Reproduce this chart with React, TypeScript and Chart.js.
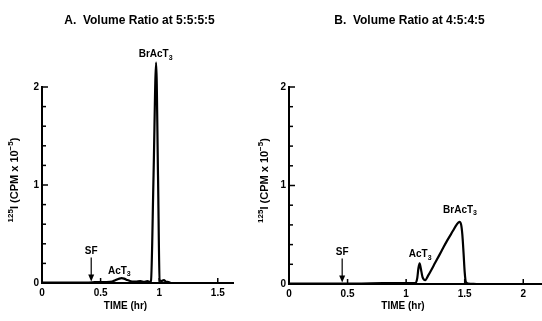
import React, { useEffect, useRef } from 'react';
import { Chart, registerables } from 'chart.js';

Chart.register(...registerables);

// ---------- data ----------
const timeA = [0, 0.1, 0.2, 0.3, 0.4, 0.45, 0.5, 0.55, 0.6, 0.63, 0.66, 0.68, 0.7, 0.73, 0.77, 0.8, 0.84, 0.87, 0.9, 0.92, 0.93, 0.952, 0.974, 0.99, 1.004, 1.02, 1.04, 1.06, 1.08, 1.1];
const cpmA = [0.005, 0.005, 0.005, 0.005, 0.005, 0.008, 0.01, 0.01, 0.015, 0.03, 0.045, 0.05, 0.045, 0.03, 0.015, 0.015, 0.02, 0.012, 0.02, 0.012, 0.02, 1.1, 2.25, 1.1, 0.03, 0.02, 0.03, 0.012, 0.01, 0.0];

const timeB = [0, 0.2, 0.4, 0.6, 0.8, 1.0, 1.08, 1.095, 1.105, 1.115, 1.125, 1.14, 1.163, 1.19, 1.25, 1.3, 1.35, 1.4, 1.43, 1.455, 1.47, 1.48, 1.49, 1.5, 1.51, 1.53, 1.6];
const cpmB = [0.005, 0.005, 0.005, 0.005, 0.008, 0.008, 0.01, 0.06, 0.16, 0.21, 0.16, 0.07, 0.04, 0.09, 0.22, 0.33, 0.44, 0.54, 0.6, 0.63, 0.6, 0.5, 0.32, 0.12, 0.02, 0.005, 0.0];

const xTickStep = 0.5;
const yTickStep = 0.2;
const yMin = 0;
const yMax = 2;
const xMaxA = 1.63;
const xMaxB = 2.16;

const titleA = 'A.  Volume Ratio at 5:5:5:5';
const titleB = 'B.  Volume Ratio at 4:5:4:5';
const xAxisTitle = 'TIME (hr)';
const yAxisTitleParts = [
  { t: '125', sup: true },
  { t: 'I (CPM x 10' },
  { t: '\u22125', sup: true },
  { t: ')' },
];

type Note = { text: string; sub?: string; x: number; y: number; arrowFrom?: number; arrowTo?: number };
const notesA: Note[] = [
  { text: 'SF', x: 0.42, y: 0.32, arrowFrom: 0.26, arrowTo: 0.015 },
  { text: 'AcT', sub: '3', x: 0.66, y: 0.12 },
  { text: 'BrAcT', sub: '3', x: 0.97, y: 2.33 },
];
const notesB: Note[] = [
  { text: 'SF', x: 0.454, y: 0.325, arrowFrom: 0.26, arrowTo: 0.015 },
  { text: 'AcT', sub: '3', x: 1.12, y: 0.3 },
  { text: 'BrAcT', sub: '3', x: 1.46, y: 0.75 },
];

// ---------- layout ----------
const FAMILY = '"Liberation Sans", Arial, Helvetica, sans-serif';
const H = 321;

type Panel = {
  left: number; width: number; axisLeft: number; axisRight: number; top: number; bottom: number;
  xMax: number; time: number[]; cpm: number[]; notes: Note[]; title: string;
  titleX: number; xTitleX: number; yTitleX: number;
};

const panels: Panel[] = [
  { left: 0, width: 255, axisLeft: 42, axisRight: 233, top: 87, bottom: 283, xMax: xMaxA, time: timeA, cpm: cpmA, notes: notesA, title: titleA, titleX: 139.5, xTitleX: 125.5, yTitleX: 15 },
  { left: 255, width: 287, axisLeft: 34, axisRight: 287, top: 87, bottom: 284, xMax: xMaxB, time: timeB, cpm: cpmB, notes: notesB, title: titleB, titleX: 154.5, xTitleX: 148, yTitleX: 10 },
];

type Part = { t: string; sup?: boolean; sub?: boolean };

function drawRich(ctx: CanvasRenderingContext2D, parts: Part[], cx: number, cy: number, size: number) {
  const small = Math.round(size * 0.72);
  const fonts = parts.map((p) => `bold ${p.sup || p.sub ? small : size}px ${FAMILY}`);
  let total = 0;
  const widths = parts.map((p, i) => {
    ctx.font = fonts[i];
    const w = ctx.measureText(p.t).width;
    total += w;
    return w;
  });
  let x = cx - total / 2;
  ctx.textAlign = 'left';
  ctx.textBaseline = 'middle';
  parts.forEach((p, i) => {
    ctx.font = fonts[i];
    const dy = p.sup ? -size * 0.38 : p.sub ? size * 0.32 : 0;
    ctx.fillText(p.t, x, cy + dy);
    x += widths[i];
  });
}

function makePlugin(panel: Panel) {
  return {
    id: 'decor',
    afterDraw(chart: any) {
      const ctx: CanvasRenderingContext2D = chart.ctx;
      const xs = chart.scales.x;
      const ys = chart.scales.y;
      const area = chart.chartArea;
      ctx.save();
      ctx.strokeStyle = '#000';
      ctx.fillStyle = '#000';
      ctx.lineWidth = 1.5;
      // inward ticks on y axis
      ys.ticks.forEach((t: any) => {
        if (Math.abs(t.value) < 1e-6) return;
        const py = ys.getPixelForValue(t.value);
        const major = Math.abs(t.value - Math.round(t.value)) < 1e-6;
        ctx.beginPath();
        ctx.moveTo(area.left, py);
        ctx.lineTo(area.left + (major ? 6 : 4), py);
        ctx.stroke();
      });
      // inward ticks on x axis
      xs.ticks.forEach((t: any) => {
        if (Math.abs(t.value) < 1e-6) return;
        const px = xs.getPixelForValue(t.value);
        ctx.beginPath();
        ctx.moveTo(px, area.bottom);
        ctx.lineTo(px, area.bottom - 5);
        ctx.stroke();
      });
      // title
      drawRich(ctx, [{ t: panel.title }], panel.titleX, 21, 12);
      // x axis title
      drawRich(ctx, [{ t: xAxisTitle }], panel.xTitleX, 306, 10);
      // y axis title
      ctx.save();
      ctx.translate(panel.yTitleX, (area.top + area.bottom) / 2 - 5);
      ctx.rotate(-Math.PI / 2);
      drawRich(ctx, yAxisTitleParts, 0, 0, 11);
      ctx.restore();
      // peak notes
      panel.notes.forEach((n) => {
        const px = xs.getPixelForValue(n.x);
        const py = ys.getPixelForValue(n.y);
        const parts: Part[] = [{ t: n.text }];
        if (n.sub) parts.push({ t: n.sub, sub: true });
        drawRich(ctx, parts, px, py, 10);
        if (n.arrowFrom !== undefined && n.arrowTo !== undefined) {
          const y1 = ys.getPixelForValue(n.arrowFrom);
          const y2 = ys.getPixelForValue(n.arrowTo);
          ctx.lineWidth = 1.2;
          ctx.beginPath();
          ctx.moveTo(px, y1);
          ctx.lineTo(px, y2 - 5);
          ctx.stroke();
          ctx.beginPath();
          ctx.moveTo(px - 3, y2 - 7);
          ctx.lineTo(px + 3, y2 - 7);
          ctx.lineTo(px, y2);
          ctx.closePath();
          ctx.fill();
        }
      });
      ctx.restore();
    },
  };
}

function PanelChart({ panel }: { panel: Panel }) {
  const ref = useRef<HTMLCanvasElement | null>(null);
  useEffect(() => {
    if (!ref.current) return;
    const tickFont = { family: FAMILY, size: 10, weight: 'bold' as const };
    const chart = new Chart(ref.current, {
      type: 'line',
      data: {
        datasets: [
          {
            data: panel.time.map((t, i) => ({ x: t, y: panel.cpm[i] })),
            borderColor: '#000',
            borderWidth: 2.2,
            pointRadius: 0,
            fill: false,
            clip: false as any,
            cubicInterpolationMode: 'monotone',
          },
        ],
      },
      options: {
        responsive: false,
        animation: false,
        events: [],
        layout: { padding: { left: 0, top: panel.top, right: panel.width - panel.axisRight, bottom: 0 } },
        plugins: { legend: { display: false }, tooltip: { enabled: false }, title: { display: false } },
        scales: {
          x: {
            type: 'linear',
            min: 0,
            max: panel.xMax,
            grid: { display: false, drawTicks: false },
            border: { display: true, color: '#000', width: 2 },
            ticks: {
              stepSize: xTickStep,
              includeBounds: false,
              autoSkip: false,
              maxRotation: 0,
              padding: 4,
              color: '#000',
              font: tickFont,
              callback: (v: any) => String(Math.round(Number(v) * 10) / 10),
            },
            afterFit: (s: any) => { s.height = H - panel.bottom; },
          },
          y: {
            type: 'linear',
            min: yMin,
            max: yMax,
            grid: { display: false, drawTicks: false },
            border: { display: true, color: '#000', width: 2 },
            ticks: {
              stepSize: yTickStep,
              autoSkip: false,
              padding: 3,
              color: '#000',
              font: tickFont,
              callback: (v: any) => (Math.abs(v - Math.round(v)) < 1e-6 ? String(Math.round(v)) : ''),
            },
            afterFit: (s: any) => { s.width = panel.axisLeft; },
          },
        },
      },
      plugins: [makePlugin(panel)],
    } as any);
    return () => chart.destroy();
  }, [panel]);
  return (
    <canvas
      ref={ref}
      width={panel.width}
      height={H}
      style={{ position: 'absolute', left: panel.left, top: 0, width: panel.width, height: H }}
    />
  );
}

export default function App() {
  return (
    <div style={{ position: 'fixed', left: 0, top: 0, width: 542, height: H, background: '#fff', overflow: 'hidden' }}>
      {panels.map((p, i) => (
        <PanelChart key={i} panel={p} />
      ))}
    </div>
  );
}
